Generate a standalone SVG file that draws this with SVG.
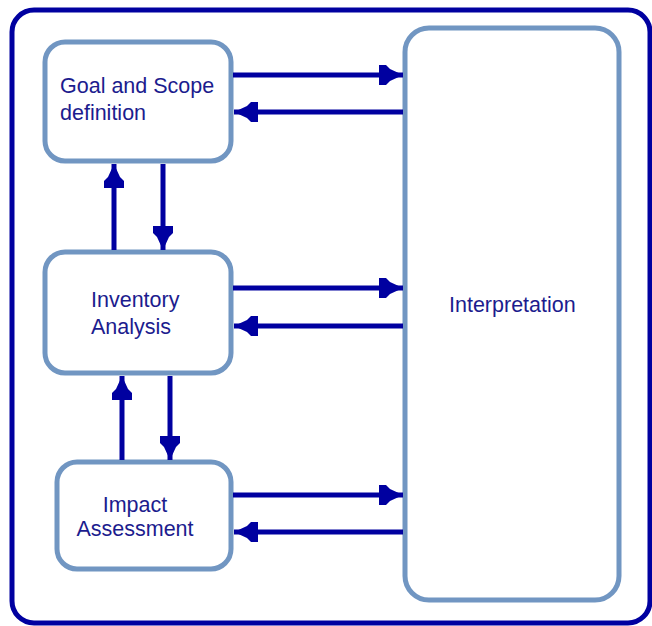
<svg xmlns="http://www.w3.org/2000/svg" width="652" height="626" viewBox="0 0 652 626">
  <style>
    .box { fill: #ffffff; stroke: #7196c2; stroke-width: 5; }
    .frame { fill: #ffffff; stroke: #0000a0; stroke-width: 5; }
    .conn { stroke: #0000a0; stroke-width: 5; fill: none; marker-end: url(#ah); }
    .lbl { font-family: "Liberation Sans", Arial, sans-serif; font-size: 21.5px; fill: #1c1c8e; }
  </style>
  <defs>
    <marker id="ah" markerUnits="userSpaceOnUse" orient="auto" viewBox="-25 -11 26 22" refX="0" refY="0" markerWidth="26" markerHeight="22">
      <polygon points="0,0 -13,-6 -17,-10 -24,-10 -24,10 -17,10 -13,6" fill="#0000a0"/>
    </marker>
  </defs>
  <rect class="frame" x="12" y="10" width="638" height="613" rx="22" ry="22"/>
  <g id="goal">
    <rect class="box" x="45" y="42" width="186" height="119" rx="20" ry="20"/>
    <text class="lbl" x="60" y="93">Goal and Scope</text>
    <text class="lbl" x="60" y="120">definition</text>
  </g>
  <g id="inventory">
    <rect class="box" x="45" y="252" width="186" height="121" rx="20" ry="20"/>
    <text class="lbl" x="91" y="307">Inventory</text>
    <text class="lbl" x="91" y="334">Analysis</text>
  </g>
  <g id="impact">
    <rect class="box" x="57" y="462" width="174" height="107" rx="20" ry="20"/>
    <text class="lbl" x="135" y="512" text-anchor="middle">Impact</text>
    <text class="lbl" x="135" y="536" text-anchor="middle">Assessment</text>
  </g>
  <g id="interpretation">
    <rect class="box" x="405" y="28" width="214" height="572" rx="24" ry="24"/>
    <text class="lbl" x="449" y="312">Interpretation</text>
  </g>
  <g id="connectors">
    <line class="conn" x1="233" y1="75" x2="403" y2="75"/>
    <line class="conn" x1="403" y1="112" x2="234" y2="112"/>
    <line class="conn" x1="233" y1="288" x2="403" y2="288"/>
    <line class="conn" x1="403" y1="326" x2="234" y2="326"/>
    <line class="conn" x1="233" y1="495" x2="403" y2="495"/>
    <line class="conn" x1="403" y1="532" x2="234" y2="532"/>
    <line class="conn" x1="114" y1="250" x2="114" y2="164"/>
    <line class="conn" x1="163" y1="164" x2="163" y2="250"/>
    <line class="conn" x1="122" y1="460" x2="122" y2="376"/>
    <line class="conn" x1="170" y1="376" x2="170" y2="460"/>
  </g>
</svg>
